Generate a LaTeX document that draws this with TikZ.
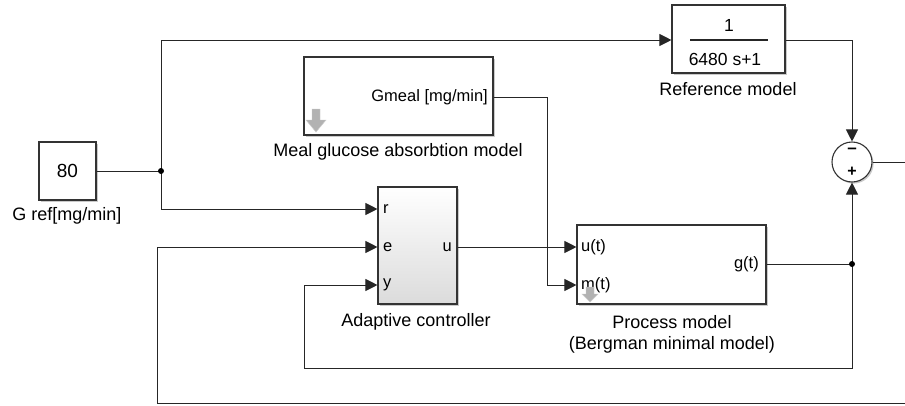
\documentclass[tikz,border=0pt]{standalone}
\usepackage{fontspec}
\setmainfont{Liberation Sans}
\usetikzlibrary{arrows.meta,shadows,calc}
\tikzset{
  blk/.style={draw=black!80, line width=1.1pt, fill=white, inner sep=0pt,
    drop shadow={shadow xshift=1.6pt, shadow yshift=-1.6pt, opacity=0.35, fill=black!60}},
  wire/.style={line width=1pt, draw=black!85},
  sig/.style={wire, -{Triangle[length=12pt,width=12pt]}},
  lbl/.style={font=\fontsize{18}{20}\selectfont, inner sep=0pt},
  port/.style={font=\fontsize{16.5}{18}\selectfont, inner sep=0pt},
  dot/.style={circle, fill=black, inner sep=0pt, minimum size=6pt},
  icon/.style={fill=black!30, draw=black!20, line width=0.4pt}
}
\begin{document}
\begin{tikzpicture}[x=1pt,y=-1pt]
\useasboundingbox (0,0) rectangle (905,405);
% blocks
\node[blk, minimum width=57pt, minimum height=58pt] (gref) at (67.5,171) {\fontsize{19}{21}\selectfont 80};
\node[blk, minimum width=113pt, minimum height=68pt] (ref) at (728.5,39) {};
\node[blk, minimum width=189pt, minimum height=78pt] (meal) at (398.5,96) {};
\node[blk, minimum width=79pt, minimum height=117pt, top color=white, bottom color=black!14] (ctrl) at (417.5,245.5) {};
\node[blk, minimum width=189pt, minimum height=79pt] (proc) at (671.5,264.5) {};
\node[blk, circle, minimum size=40pt] (sum) at (852,162) {};
% reference model contents
\draw[line width=1.2pt, black!85] (690,40) -- (768,40);
\node[font=\fontsize{17.5}{19}\selectfont, inner sep=0pt] (refnum) at (729,25) {1};
\node[font=\fontsize{17.5}{19}\selectfont, inner sep=0pt] (refden) at (725,59) {6480 s+1};
% sum signs
\node[font=\fontsize{17}{18}\selectfont\bfseries, inner sep=0pt] (minus) at (852,152) {\raisebox{0.3ex}{–}};
\node[font=\fontsize{16}{17}\selectfont\bfseries, inner sep=0pt] (plus) at (852,172) {+};
% port labels
\node[port, anchor=east] (gmeal) at (488,97) {Gmeal [mg/min]};
\node[port, anchor=west] (pr) at (383,209) {r};
\node[port, anchor=west] (pe) at (383,247) {e};
\node[port, anchor=west] (py) at (383,285) {y};
\node[port, anchor=east] (pu) at (452,247) {u};
\node[port, anchor=west] (put) at (581,247) {u(t)};
\node[port, anchor=west] (pmt) at (581,285) {m(t)};
\node[port, anchor=east] (pgt) at (759,264) {g(t)};
% gray icons
\fill[icon] (312,109) -- (320,109) -- (320,120) -- (326,120) -- (316,132) -- (306,120) -- (312,120) -- cycle;
\fill[icon] (586,287) -- (594,287) -- (594,294) -- (598,294) -- (590,302) -- (582,294) -- (586,294) -- cycle;
% block labels
\node[lbl] (lgref) at (67,216) {G ref[mg/min]};
\node[lbl] (lref) at (728,89) {Reference model};
\node[lbl] (lmeal) at (398,152) {Meal glucose absorbtion model};
\node[lbl] (lctrl) at (416,322) {Adaptive controller};
\node[lbl] (lproc) at (672,322) {Process model};
\node[lbl] (lberg) at (672,345) {(Bergman minimal model)};
% coordinates
\coordinate (j1) at (161,171);
\coordinate (j2) at (852,264);
\coordinate (out) at (905,162);
\coordinate (fb) at (905,403);
% wires
\draw[wire] (gref.east |- j1) -- (j1);
\draw[sig] (j1) |- (ref.west |- 0,40);
\draw[sig] (j1) |- (ctrl.west |- 0,209);
\draw[sig] (ref.east |- 0,40) -| (sum.north);
\draw[sig] (meal.east |- 0,97) -- (547,97) |- (proc.west |- 0,285);
\draw[sig] (ctrl.east |- 0,247) -- (proc.west |- 0,247);
\draw[wire] (proc.east |- j2) -- (j2);
\draw[sig] (j2) -- (sum.south);
\draw[sig] (j2) -- (852,368) -| (304,285) -- (ctrl.west |- 0,285);
\draw[wire] (sum.east) -- (out);
\draw[sig] (fb) -| (157,247) -- (ctrl.west |- 0,247);
\node[dot] (d1) at (j1) {};
\node[dot] (d2) at (j2) {};
\end{tikzpicture}
\end{document}
